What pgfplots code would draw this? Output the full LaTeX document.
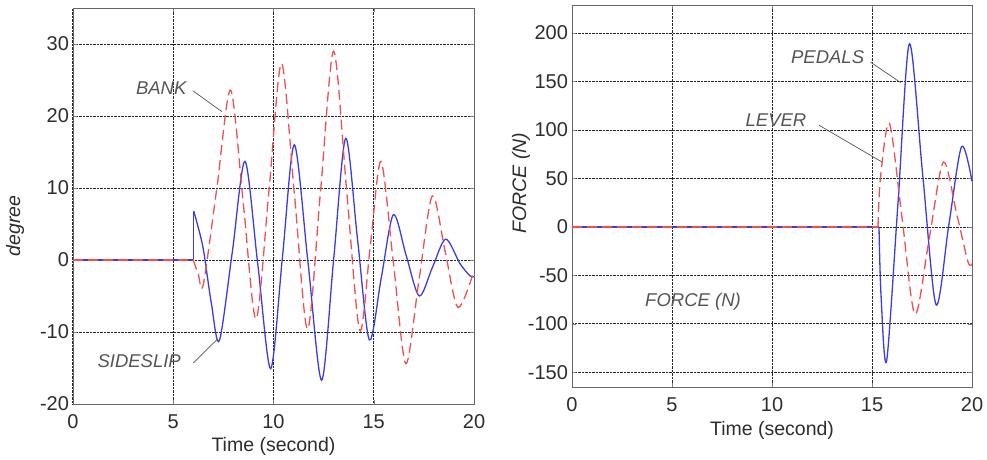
\documentclass[border=0pt]{standalone}
\usepackage{fontspec}
\setmainfont{Liberation Sans}
\usepackage{pgfplots}
\pgfplotsset{compat=1.18}
\definecolor{lblue}{RGB}{60,60,230}
\definecolor{lred}{RGB}{240,80,80}
\definecolor{txt}{RGB}{45,45,45}
\definecolor{ann}{RGB}{85,85,85}
\tikzset{an/.style={font=\fontsize{18.5}{20}\selectfont\itshape, text=ann}}
\begin{document}
\begin{tikzpicture}
\useasboundingbox (0pt,0pt) rectangle (987pt,460pt);
\pgfplotsset{
 mystyle/.style={scale only axis, axis line style={gray!80!black, line width=0.9pt},
   grid=major, major grid style={black!85, densely dotted, line width=1pt},
   tick style={gray}, tick align=inside, major tick length=4pt,
   ticklabel style={font=\fontsize{20}{22}\selectfont, text=txt},
   xticklabel style={anchor=center, yshift=-17.5pt},
   yticklabel style={xshift=-0.5pt},
   label style={font=\fontsize{19.5}{22}\selectfont, text=txt},
   /pgf/number format/assume math mode=true,
   xmin=0, xmax=20, xtick={0,5,...,20}},
 bl/.style={lblue, line width=1.3pt},
 rd/.style={lred, line width=1.3pt, dash pattern=on 10pt off 5pt}
}
\begin{axis}[mystyle, at={(73pt,56pt)}, anchor=south west, width=401pt, height=396pt,
  ymin=-20, ymax=35, ytick={-20,-10,...,30},
  xlabel={Time (second)}, ylabel={\itshape degree},
  xlabel style={at={(axis description cs:0.5,-0.106)}, anchor=center},
  ylabel style={at={(axis description cs:-0.1446,0.45)}, anchor=center}]
\addplot[bl] coordinates {(0,0)(6.02,0)(6.02,6.8)};
\addplot[bl, smooth] coordinates {(6.02,6.8)(6.2,5.0)(6.5,1.5)(6.9,-6)(7.3,-11.2)(7.95,1.2)(8.58,13.7)(9.22,-0.7)(9.86,-15.1)(10.45,0.5)(11.04,16.0)(11.72,-0.3)(12.4,-16.7)(13.0,0.1)(13.6,16.9)(14.19,2.9)(14.78,-11.1)(15.38,-2.4)(15.98,6.3)(16.62,0.6)(17.27,-5.0)(17.93,-1.0)(18.59,2.9)(19.3,-0.5)(19.8,-2.2)(20,-2.3)};
\addplot[rd] coordinates {(0,0)(6.0,0)};
\addplot[rd, smooth] coordinates {(6.0,0)(6.25,-2)(6.5,-3.4)(7.18,10.1)(7.86,23.6)(8.5,7.7)(9.13,-8.2)(9.77,9.5)(10.4,27.3)(11.05,8.9)(11.7,-9.6)(12.35,9.7)(13.0,29.0)(13.65,9.6)(14.3,-9.8)(14.83,2.0)(15.36,13.7)(15.98,-0.4)(16.6,-14.4)(17.26,-2.7)(17.92,8.9)(18.56,1.2)(19.2,-6.6)(20,-1.5)};
\node[an] at (axis cs:4.4,23.9) {BANK};
\draw[ann, line width=0.7pt] (axis cs:5.98,23.5) -- (axis cs:7.43,20.6);
\node[an] at (axis cs:3.3,-14.0) {SIDESLIP};
\draw[ann, line width=0.7pt] (axis cs:6.0,-14.3) -- (axis cs:7.2,-11.0);
\end{axis}
\begin{axis}[mystyle, at={(572pt,73pt)}, anchor=south west, width=400pt, height=382pt,
  ymin=-165, ymax=229, ytick={-150,-100,...,200},
  xlabel={Time (second)}, ylabel={\itshape FORCE (N)},
  xlabel style={at={(axis description cs:0.5,-0.113)}, anchor=center},
  ylabel style={at={(axis description cs:-0.1275,0.534)}, anchor=center}]
\addplot[bl] coordinates {(0,0)(15.35,0)};
\addplot[bl, smooth] coordinates {(15.35,0)(15.45,-70)(15.73,-138)(16.3,25)(16.87,189)(17.53,55)(18.2,-80)(18.84,2)(19.48,83)(20,47)};
\addplot[rd] coordinates {(0,0)(15.3,0)};
\addplot[rd, smooth] coordinates {(15.3,0)(15.42,50)(15.87,107)(16.51,8)(17.15,-90)(17.86,-12)(18.57,67)(19.25,12)(19.8,-36)(20,-38)};
\node[an] at (axis cs:12.78,175) {PEDALS};
\draw[ann, line width=0.7pt] (axis cs:14.93,170) -- (axis cs:16.43,149);
\node[an] at (axis cs:10.2,110) {LEVER};
\draw[ann, line width=0.7pt] (axis cs:12.35,105) -- (axis cs:15.5,67);
\node[an] at (axis cs:6.05,-77) {FORCE (N)};
\end{axis}
\end{tikzpicture}
\end{document}
